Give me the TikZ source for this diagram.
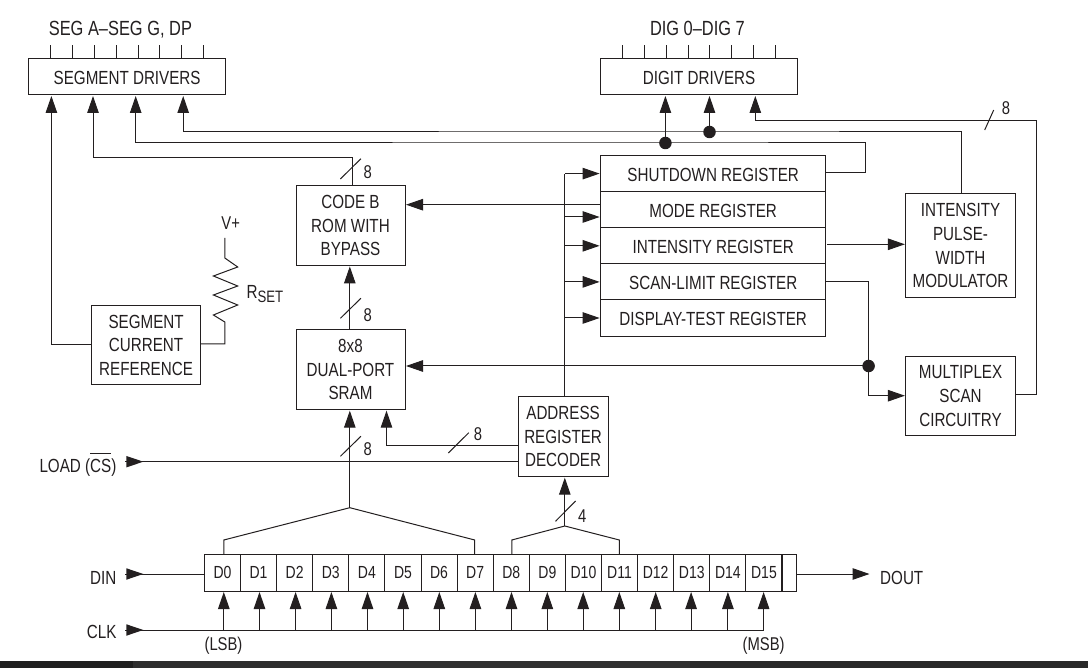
\documentclass[tikz,border=0pt]{standalone}
\usepackage{fontspec}
\setmainfont[FakeStretch=0.8]{Liberation Sans}
\usetikzlibrary{arrows.meta,calc}
\definecolor{ink}{HTML}{231F20}
\tikzset{
  wire/.style={draw=ink,line width=1pt},
  arr/.style={wire,-{Triangle[length=17pt,width=11.5pt]},shorten >=1pt},
  blkbase/.style={draw=ink,line width=1pt,inner sep=0pt,outer sep=0pt,align=center,text=ink,
     font=\fontsize{19}{23.6}\selectfont},
  blk/.style={blkbase,execute at begin node={\rule{0pt}{15.6pt}}},
  lab/.style={inner sep=0pt,text=ink,font=\fontsize{19}{22}\selectfont},
  toplab/.style={inner sep=0pt,text=ink,font=\fontsize{20.5}{24}\selectfont},
  smallab/.style={inner sep=0pt,text=ink,font=\fontsize{18.5}{22}\selectfont},
  dotj/.style={circle,fill=ink,inner sep=0pt,minimum size=12.5pt},
  cell/.style={blkbase,minimum width=36.1pt,minimum height=36.3pt,font=\fontsize{17.5}{20}\selectfont},
  reg/.style={blk,minimum width=225.2pt,minimum height=36.1pt}
}
\begin{document}
\begin{tikzpicture}[x=1pt,y=-1pt]
\useasboundingbox (0,0) rectangle (1088,668);
% bottom band
\fill[fill=white] (0,0) rectangle (1088,668);
\fill[fill=black!88] (0,660.7) rectangle (133,668);
\fill[fill=black!82] (133,660.7) rectangle (380,668);
\fill[fill=black!81] (380,660.7) rectangle (690,668);
\fill[fill=black!84] (690,660.7) rectangle (1088,668);
% blocks
\node[blk,minimum width=196.7pt,minimum height=36pt] (segd) at (127.15,77) {SEGMENT DRIVERS};
\node[blk,minimum width=197pt,minimum height=36pt] (digd) at (699.1,77) {DIGIT DRIVERS};
\node[blk,minimum width=109pt,minimum height=79.5pt] (rom) at (350.5,225.7) {CODE B\\ROM WITH\\BYPASS};
\node[blk,minimum width=109pt,minimum height=79.7pt] (sram) at (350.5,369.85) {8x8\\DUAL-PORT\\SRAM};
\node[blk,minimum width=109pt,minimum height=79pt] (scr) at (146.1,345.2) {SEGMENT\\CURRENT\\REFERENCE};
\node[blk,minimum width=90.2pt,minimum height=79.7pt] (addr) at (563.1,436.85) {ADDRESS\\REGISTER\\DECODER};
\node[blk,minimum width=109.3pt,minimum height=103.5pt] (pwm) at (960.55,245.75) {INTENSITY\\PULSE-\\WIDTH\\MODULATOR};
\node[blk,minimum width=109.3pt,minimum height=79.4pt] (mux) at (960.55,396) {MULTIPLEX\\SCAN\\CIRCUITRY};
\node[reg] (rshut) at (713.2,173.6) {SHUTDOWN REGISTER};
\node[reg] (rmode) at (713.2,209.7) {MODE REGISTER};
\node[reg] (rint) at (713.2,245.8) {INTENSITY REGISTER};
\node[reg] (rscan) at (713.2,281.9) {SCAN-LIMIT REGISTER};
\node[reg] (rdisp) at (713.2,318) {DISPLAY-TEST REGISTER};
% shift register
\foreach \i in {0,...,15}{
  \node[cell] (d\i) at ({222.45+36.1*\i},572.85) {D\i};
}
\node[blkbase,minimum width=14.6pt,minimum height=36.3pt] (dend) at (789,572.85) {};
% labels
\node[toplab] (lseg) at (120.4,29.5) {SEG A–SEG G, DP};
\node[toplab] (ldig) at (697.4,28) {DIG 0–DIG 7};
\node[smallab] (lvp) at (230.7,223.5) {V+};
\node[lab,anchor=west] (lrset) at (246.4,294) {R\raisebox{-3.5pt}{\fontsize{16.5}{18}\selectfont SET}};
\node[lab,anchor=base east] (lload) at (116.6,472.5) {LOAD ($\overline{\hbox{\rule{0pt}{18pt}CS}}$)};
\node[lab,anchor=east] (ldin) at (116.6,577.5) {DIN};
\node[lab,anchor=east] (lclk) at (116.6,632) {CLK};
\node[lab,anchor=west] (ldout) at (880,577.5) {DOUT};
\node[smallab] (llsb) at (223.5,646) {(LSB)};
\node[smallab] (lmsb) at (763.6,646) {(MSB)};
\node[smallab] (n1) at (367.8,172) {8};
\node[smallab] (n2) at (367.8,315) {8};
\node[smallab] (n3) at (367.8,449) {8};
\node[smallab] (n4) at (478,434) {8};
\node[smallab] (n5) at (582.2,515.7) {4};
\node[smallab] (n6) at (1006,108) {8};
% named coordinates
\coordinate (xa) at (51.4,0);
\coordinate (xb) at (93,0);
\coordinate (xc) at (135.7,0);
\coordinate (xd) at (183.2,0);
\coordinate (xrom) at (349.8,0);
\coordinate (xram2) at (386.5,0);
\coordinate (xbus) at (564.8,0);
\coordinate (xe) at (665.4,0);
\coordinate (xf) at (709.5,0);
\coordinate (xg) at (755.3,0);
\coordinate (xh) at (868.6,0);
\coordinate (xshut) at (865,0);
\coordinate (xpwm) at (961.4,0);
\coordinate (xout) at (1036.7,0);
\coordinate (xres) at (224.8,0);
% output ticks
\foreach \x in {50.7,72.5,94.4,116,138,159.6,181,203.3}{
  \draw[wire] (segd.north -| \x,0) -- ++(0,-14);
}
\foreach \x in {622.8,644.3,666,688,709.9,731.7,753.2,775.4}{
  \draw[wire] (digd.north -| \x,0) -- ++(0,-14);
}
% segment driver inputs
\draw[arr] (scr.west |- 0,344.7) -| (segd.south -| xa);
\draw[arr] (rom.north -| 352,0) |- (xb |- 0,157.7) -- (segd.south -| xb);
\coordinate (jc) at (xe |- 0,143);
\coordinate (jd) at (xf |- 0,132);
\draw[arr] (rshut.east |- 0,172.5) -| (xshut |- jc) -- (jc) -- (xc |- jc) -- (segd.south -| xc);
\draw[arr] (pwm.north -| xpwm) |- (jd) -- (xd |- jd) -- (segd.south -| xd);
% digit driver inputs
\draw[arr] (jc) -- (digd.south -| xe);
\draw[arr] (jd) -- (digd.south -| xf);
\node[dotj] (dc) at (jc) {};
\node[dotj] (dd) at (jd) {};
\draw[arr] (mux.east |- 0,394.7) -| (xout |- 0,121) -- (xg |- 0,121) -- (digd.south -| xg);
\draw[wire] (984.7,130) -- (993.7,110);
% code B
\draw[wire] (340.4,179) -- (360.9,158.7);
\draw[arr] (rmode.west |- 0,204.7) -- (rom.east |- 0,204.7);
\draw[arr] (sram.north -| xrom) -- (rom.south -| xrom);
\draw[wire] (340.4,318.3) -- (360.9,298.3);
% resistor
\draw[wire] (xres |- 0,238) -- (xres |- 0,258) -- (237.7,267) -- (213.4,276) -- (237.7,286) -- (213.4,295) -- (237.7,305) -- (213.4,315) -- (224.8,322) -- (224.8,344) -- (scr.east |- 0,344);
% register bus
\draw[wire] (addr.north -| xbus) -- (xbus |- rshut.west);
\draw[arr] (xbus |- rshut.west) -- (rshut.west);
\draw[arr] (xbus |- 0,217) -- (rmode.west |- 0,217);
\draw[arr] (xbus |- rint.west) -- (rint.west);
\draw[arr] (xbus |- rscan.west) -- (rscan.west);
\draw[arr] (xbus |- rdisp.west) -- (rdisp.west);
% right side
\draw[arr] (827,244.3) -- (pwm.west |- 0,244.3);
\coordinate (jm) at (xh |- 0,366);
\draw[arr] (rscan.east) -| (jm) |- (mux.west |- 0,395.7);
\draw[arr] (jm) -- (sram.east |- jm);
\node[dotj] (dm) at (jm) {};
% sram inputs
\coordinate (fa) at (349.8,507.7);
\draw[arr] (fa) -- (sram.south -| fa);
\draw[wire] (340.4,456.3) -- (360.9,436.3);
\draw[arr] (addr.west |- 0,446) -| (sram.south -| xram2);
\draw[wire] (448.3,453) -- (468.8,432.7);
\coordinate (lk) at (125,461.7);
\draw[wire] (lk) -- (addr.west |- lk);
\draw[-{Triangle[length=17pt,width=11.5pt]},wire,line width=0pt] (lk) -- ++(18.3,0);
% forks
\draw[wire] (d0.north -| 223.8,0) -- (223.8,540) -- (fa) -- (474.7,540) -- (d7.north -| 474.7,0);
\coordinate (fb) at (564.8,526);
\draw[wire] (d8.north -| 511.8,0) -- (511.8,540) -- (fb) -- (619.3,540) -- (d11.north -| 619.3,0);
\draw[arr] (fb) -- (addr.south -| fb);
\draw[wire] (555.5,521.3) -- (575.6,501);
% din, dout
\coordinate (di) at (125,574);
\draw[wire] (di) -- (d0.west |- di);
\draw[-{Triangle[length=17pt,width=11.5pt]},wire,line width=0pt] (di) -- ++(18.3,0);
\coordinate (dot) at (869.5,574);
\draw[arr,shorten >=0pt] (dend.east |- dot) -- (dot);
% clock
\coordinate (ck) at (125,630);
\coordinate (cke) at (763.6,630);
\draw[wire] (ck) -- (cke);
\draw[-{Triangle[length=17pt,width=11.5pt]},wire,line width=0pt] (ck) -- ++(18.3,0);
\foreach \x/\n in {223.8/0,259.5/1,295.6/2,331.4/3,367.5/4,403.2/5,439.3/6,475.4/7,511.5/8,547.3/9,583.2/10,619.3/11,655.7/12,691.1/13,727.9/14,763.6/15}{
  \draw[arr] (\x,630) -- (d\n.south -| \x,0);
}
\end{tikzpicture}
\end{document}
